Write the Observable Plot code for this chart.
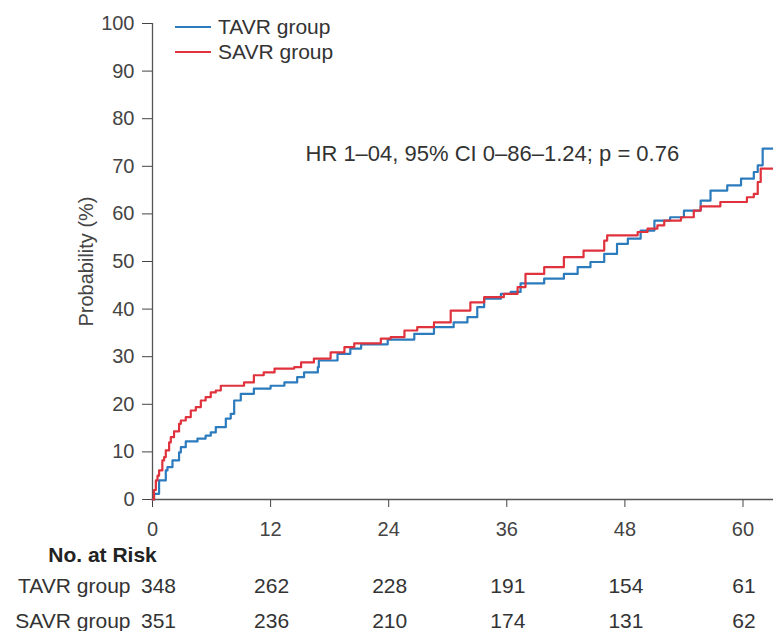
<!DOCTYPE html>
<html>
<head>
<meta charset="utf-8">
<script src="https://cdn.jsdelivr.net/npm/d3@7"></script>
<script src="https://cdn.jsdelivr.net/npm/@observablehq/plot@0.6"></script>
<style>
  html, body { margin: 0; padding: 0; background: #fff; }
  #wrap { position: relative; width: 773px; height: 631px; overflow: hidden; font-family: "Liberation Sans", Arial, sans-serif; color: #333; }
  #legend { position: absolute; left: 175px; top: 14px; font-size: 21px; line-height: 25px; }
  #legend .row { display: flex; align-items: center; height: 25px; }
  #legend .sw { width: 36px; height: 2px; margin-right: 7px; }
</style>
</head>
<body>
<div id="wrap">
  <div id="chart"></div>
  <div id="legend"></div>
</div>
<script>
// ---- data ----
const groups = ["TAVR group", "SAVR group"];
const groupColors = ["#2b7bbd", "#e0323c"];

const tavrMonths = [0, 0.16, 0.67, 1.35, 1.52, 2.03, 2.7, 2.88, 3.38, 4.57, 5.4, 5.92, 6.43, 7.45, 7.95, 8.3, 8.97, 10.3, 12.0, 13.4, 14.7, 15.4, 16.8, 16.9, 18.8, 20.1, 21.2, 23.9, 26.6, 28.6, 30.6, 32.0, 33.0, 33.7, 35.4, 36.4, 37.4, 39.8, 41.8, 43.2, 44.5, 45.9, 47.2, 48.3, 49.6, 51.0, 52.6, 54.0, 55.7, 56.7, 58.4, 59.8, 61.1, 61.5, 62.0, 63.1];
const tavrPct    = [0, 1.2, 4.0, 6.1, 6.8, 8.2, 9.9, 11.0, 12.2, 12.8, 13.4, 14.1, 15.2, 17.0, 18.0, 20.8, 22.2, 23.3, 23.9, 24.6, 25.7, 26.7, 27.8, 29.2, 30.6, 31.7, 32.6, 33.6, 34.8, 36.2, 37.2, 38.3, 40.4, 42.2, 43.2, 43.6, 45.4, 46.4, 47.4, 48.8, 49.9, 51.6, 53.7, 54.8, 56.5, 58.6, 59.3, 60.7, 62.8, 64.9, 66.0, 67.4, 68.8, 70.2, 73.7, 73.7];

const savrMonths = [0, 0.15, 0.34, 0.51, 0.67, 1.0, 1.18, 1.35, 1.69, 1.86, 2.19, 2.7, 2.88, 3.38, 3.89, 4.4, 4.91, 5.4, 5.92, 6.43, 6.94, 9.3, 10.3, 11.3, 12.4, 14.4, 15.1, 16.4, 18.1, 19.5, 20.5, 23.2, 24.2, 25.6, 26.9, 28.6, 30.3, 32.3, 33.7, 35.7, 37.1, 37.9, 39.8, 41.8, 43.8, 45.9, 46.2, 49.3, 50.3, 51.3, 52.0, 53.7, 55.0, 55.7, 57.7, 60.1, 60.4, 61.1, 61.5, 61.8, 63.1];
const savrPct    = [0, 2.0, 4.0, 5.0, 6.1, 8.2, 8.9, 10.3, 12.0, 13.1, 14.3, 15.9, 16.6, 17.3, 18.7, 19.4, 20.8, 21.5, 22.5, 22.9, 23.9, 24.6, 26.1, 26.7, 27.5, 27.8, 28.8, 29.6, 30.9, 32.0, 32.8, 33.8, 34.1, 35.5, 36.2, 37.2, 39.7, 41.4, 42.5, 43.2, 44.6, 47.4, 48.8, 50.9, 52.3, 54.4, 55.5, 56.2, 56.9, 57.6, 58.6, 59.3, 60.7, 61.6, 62.5, 62.5, 63.5, 64.2, 66.7, 69.5, 69.5];

const riskMonths = [0, 12, 24, 36, 48, 60];
const tavrAtRisk = [348, 262, 228, 191, 154, 61];
const savrAtRisk = [351, 236, 210, 174, 131, 62];

const xTicks = [0, 12, 24, 36, 48, 60];
const yTicks = [0, 10, 20, 30, 40, 50, 60, 70, 80, 90, 100];

const hrText = "HR 1\u201304, 95% CI 0\u201386\u20131.24; p = 0.76";
const yLabel = "Probability (%)";
const riskTitle = "No. at Risk";

// ---- tables built from the arrays ----
const curves = [
  ...tavrMonths.map((m, i) => ({group: groups[0], month: m, pct: tavrPct[i]})),
  ...savrMonths.map((m, i) => ({group: groups[1], month: m, pct: savrPct[i]}))
];
const riskRows = [
  {group: groups[0], values: tavrAtRisk, dy: 87},
  {group: groups[1], values: savrAtRisk, dy: 122}
];

const font = "'Liberation Sans', Arial, Helvetica, sans-serif";

const marks = [
  Plot.ruleY([0], {stroke: "#555", strokeWidth: 1.3}),
  Plot.ruleX([0], {stroke: "#555", strokeWidth: 1.3}),
  Plot.line(curves, {x: "month", y: "pct", z: "group", stroke: "group", curve: "step-after", strokeWidth: 2.2}),
  Plot.text([hrText], {frameAnchor: "top-left", dx: 153, dy: 130, textAnchor: "start", lineAnchor: "middle", fill: "#333", fontSize: 22}),
  Plot.text([riskTitle], {frameAnchor: "bottom-left", dx: -50, dy: 56, textAnchor: "middle", lineAnchor: "middle", fontWeight: "bold", fill: "#222", fontSize: 21})
];
for (const row of riskRows) {
  const cells = riskMonths.map((m, i) => ({month: m, n: row.values[i]}));
  marks.push(Plot.text([row.group], {frameAnchor: "bottom-left", dx: -22, dy: row.dy, textAnchor: "end", lineAnchor: "middle", fill: "#333", fontSize: 21}));
  marks.push(Plot.text(cells.slice(0, 1), {x: "month", text: "n", frameAnchor: "bottom", dx: 6, dy: row.dy, lineAnchor: "middle", fill: "#333", fontSize: 21}));
  marks.push(Plot.text(cells.slice(1), {x: "month", text: "n", frameAnchor: "bottom", dx: 1, dy: row.dy, lineAnchor: "middle", fill: "#333", fontSize: 21}));
}

const chart = Plot.plot({
  width: 773,
  height: 631,
  marginLeft: 152,
  marginRight: 0,
  marginTop: 23,
  marginBottom: 132,
  style: {fontFamily: font, fontSize: "20px", color: "#444", background: "white", overflow: "visible"},
  x: {domain: [0, 63.1], ticks: xTicks, tickSize: 8, tickPadding: 14, label: null, tickFormat: d => String(d)},
  y: {domain: [0, 100], ticks: yTicks, tickSize: 10, tickPadding: 8, label: yLabel, labelAnchor: "center", labelOffset: 74, labelArrow: "none", tickFormat: d => String(d)},
  color: {domain: groups, range: groupColors},
  marks
});
document.getElementById("chart").appendChild(chart);

// legend overlay
const legend = document.getElementById("legend");
groups.forEach((g, i) => {
  const row = document.createElement("div");
  row.className = "row";
  const sw = document.createElement("div");
  sw.className = "sw";
  sw.style.background = groupColors[i];
  const t = document.createElement("span");
  t.textContent = g;
  row.appendChild(sw);
  row.appendChild(t);
  legend.appendChild(row);
});
</script>
</body>
</html>
